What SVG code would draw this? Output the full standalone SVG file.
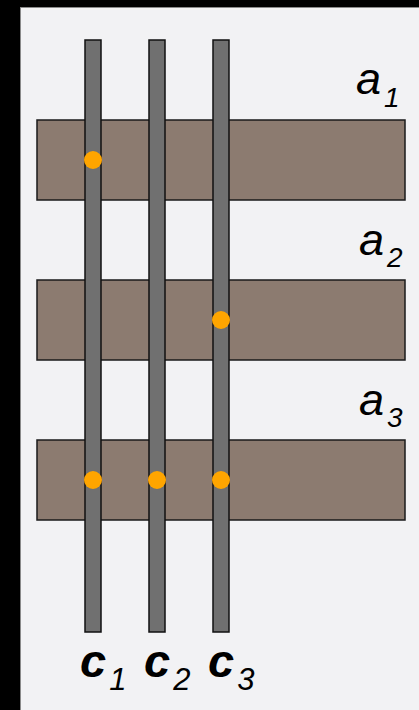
<svg xmlns="http://www.w3.org/2000/svg" width="419" height="710" viewBox="0 0 419 710">
<style>
.row{fill:#8c7b70;stroke:#1a1a1a;stroke-width:1.5}
.col{fill:#707070;stroke:#111;stroke-width:1.5}
.dot{fill:#ffa500}
.lbl{font-family:"Liberation Sans",Arial,sans-serif;font-style:italic;fill:#000}
.a{font-size:45px}
.c{font-size:47px;font-weight:bold}
</style>
<rect x="0" y="0" width="419" height="710" fill="#000"/>
<rect x="20.5" y="7.5" width="400" height="705" fill="#f2f2f4" stroke="#8a8a8a" stroke-width="1"/>
<g id="a1"><rect class="row" x="37" y="120" width="368" height="80"/></g>
<g id="a2"><rect class="row" x="37" y="280" width="368" height="80"/></g>
<g id="a3"><rect class="row" x="37" y="440" width="368" height="80"/></g>
<g id="c1"><rect class="col" x="85" y="40" width="16" height="592"/></g>
<g id="c2"><rect class="col" x="149" y="40" width="16" height="592"/></g>
<g id="c3"><rect class="col" x="213" y="40" width="16" height="592"/></g>
<g id="connectors">
<circle class="dot" cx="93" cy="160" r="9"/>
<circle class="dot" cx="221" cy="320" r="9"/>
<circle class="dot" cx="93" cy="480" r="9"/>
<circle class="dot" cx="157" cy="480" r="9"/>
<circle class="dot" cx="221" cy="480" r="9"/>
</g>
<g id="labels">
<text class="lbl a" x="356" y="94">a<tspan font-size="28" dx="3" dy="13">1</tspan></text>
<text class="lbl a" x="359" y="255">a<tspan font-size="28" dx="3" dy="12">2</tspan></text>
<text class="lbl a" x="359" y="415">a<tspan font-size="28" dx="3" dy="12">3</tspan></text>
<text class="lbl c" x="80" y="677">c<tspan font-size="31" font-weight="normal" dx="3" dy="13">1</tspan></text>
<text class="lbl c" x="144" y="677">c<tspan font-size="31" font-weight="normal" dx="3" dy="13">2</tspan></text>
<text class="lbl c" x="208" y="677">c<tspan font-size="31" font-weight="normal" dx="3" dy="13">3</tspan></text>
</g>
</svg>
